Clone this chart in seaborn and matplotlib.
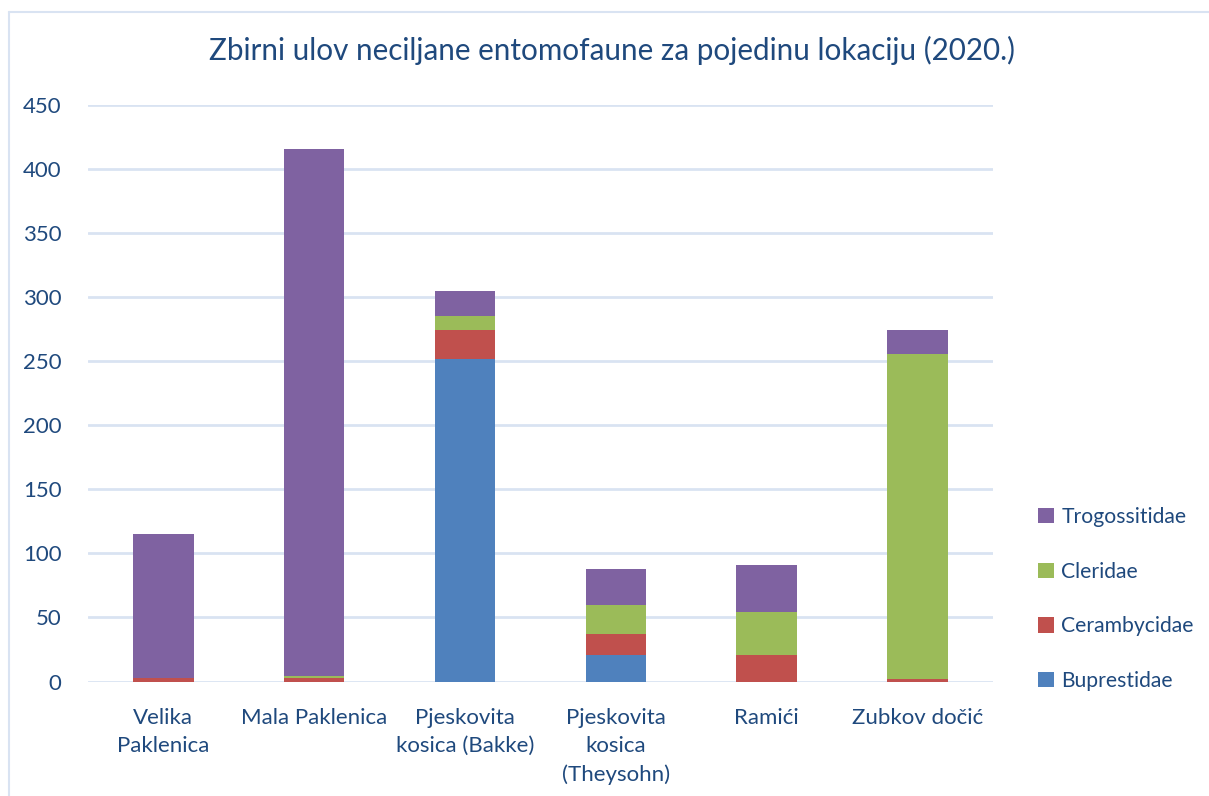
import matplotlib
matplotlib.use("Agg")
import matplotlib.pyplot as plt
import seaborn as sns
import pandas as pd
from matplotlib.patches import Patch
from matplotlib.lines import Line2D

locations = ["Velika\nPaklenica", "Mala Paklenica", "Pjeskovita\nkosica (Bakke)",
             "Pjeskovita\nkosica\n(Theysohn)", "Ramići", "Zubkov dočić"]
families = ["Buprestidae", "Cerambycidae", "Cleridae", "Trogossitidae"]
buprestidae = [0, 0, 252, 21, 0, 0]
cerambycidae = [3, 3, 22, 16, 21, 2]
cleridae = [0, 1, 11, 23, 33, 254]
trogossitidae = [112, 412, 20, 28, 37, 18]
colors = {"Buprestidae": "#4F81BD", "Cerambycidae": "#C0504D",
          "Cleridae": "#9BBB59", "Trogossitidae": "#7F62A1"}
text_col = "#1F497D"
grid_col = "#D9E3F2"

df = pd.DataFrame({"Lokacija": locations, "Buprestidae": buprestidae,
                   "Cerambycidae": cerambycidae, "Cleridae": cleridae,
                   "Trogossitidae": trogossitidae})
# cumulative totals, drawn from the tallest down so each layer shows as a stack
cum = df[families].cumsum(axis=1)

sns.set_theme(style="white")
plt.rcParams["font.family"] = ["Lato", "DejaVu Sans"]

fig = plt.figure(figsize=(12.09, 7.96), dpi=100)
ax = fig.add_axes([0.0728, 0.1438, 0.7484, 0.7243])

for fam in reversed(families):
    sns.barplot(x=df["Lokacija"], y=cum[fam], color=colors[fam], width=0.4,
                saturation=1, ax=ax, linewidth=0, zorder=3)

ax.set_ylim(0, 450)
ax.set_xlim(-0.5, 5.5)
ax.set_yticks(range(0, 451, 50))
ax.yaxis.grid(True, color=grid_col, linewidth=2, zorder=0)
ax.set_axisbelow(True)
for s in ax.spines.values():
    s.set_visible(False)
ax.set_xlabel("")
ax.set_ylabel("")
ax.tick_params(axis="both", length=0, labelsize=16, labelcolor=text_col)
ax.tick_params(axis="y", pad=19)
ax.tick_params(axis="x", pad=19)
ax.set_xticks(range(len(locations)))
ax.set_xticklabels(locations, linespacing=1.5)

fig.text(0.506, 0.937, "Zbirni ulov neciljane entomofaune za pojedinu lokaciju (2020.)",
         ha="center", va="center", fontsize=21.3, color=text_col)

handles = [Patch(facecolor=colors[f], edgecolor="none") for f in reversed(families)]
fig.legend(handles, list(reversed(families)), loc="center left",
           bbox_to_anchor=(0.843, 0.2475), frameon=False, fontsize=15.2,
           labelcolor=text_col, handlelength=0.75, handleheight=0.75,
           handletextpad=0.35, labelspacing=1.64)

# chart border (top and left edges visible)
fig.add_artist(Line2D([9 / 1209, 1.0], [1 - 12 / 796, 1 - 12 / 796],
                      color=grid_col, linewidth=1.5, transform=fig.transFigure))
fig.add_artist(Line2D([9 / 1209, 9 / 1209], [1 - 12 / 796, 0.0],
                      color=grid_col, linewidth=1.5, transform=fig.transFigure))

fig.savefig("out.png", dpi=100, facecolor="white")
